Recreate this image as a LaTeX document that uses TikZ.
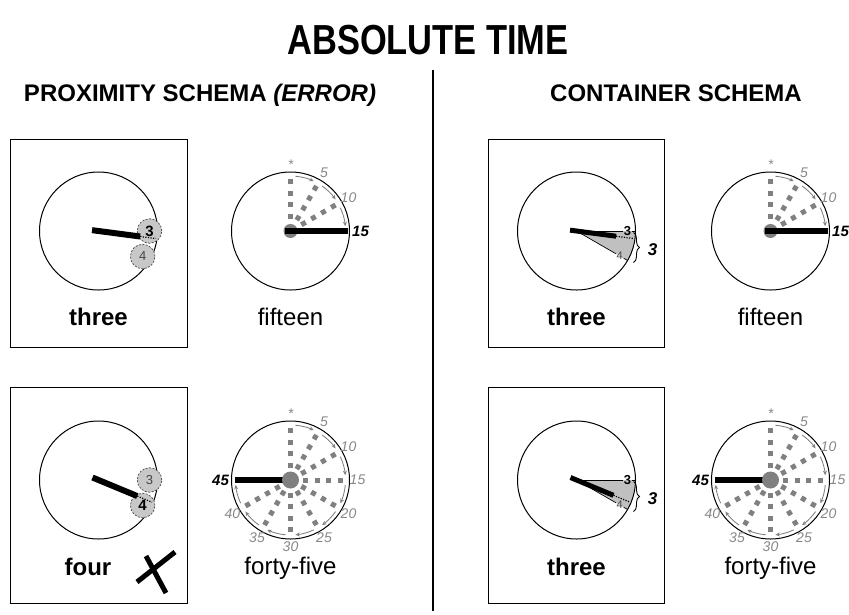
\documentclass[tikz,border=0pt]{standalone}
\usepackage{fontspec}
\setmainfont{Liberation Sans}
\usetikzlibrary{arrows.meta,decorations.pathreplacing}

\definecolor{spokegray}{RGB}{128,128,128}
\definecolor{labelgray}{RGB}{135,135,135}
\definecolor{beadgray}{RGB}{200,200,200}
\definecolor{wedgegray}{RGB}{192,192,192}
\definecolor{digitgray}{RGB}{70,70,70}

\tikzset{
  face/.style={draw=black, line width=1pt},
  panel/.style={draw=black, line width=0.9pt},
  hand/.style={draw=black, line width=6pt},
  thinhand/.style={draw=black, line width=5pt},
  extension/.style={draw=black, line width=1.2pt, dash pattern=on 1.2pt off 1.4pt},
  spoke/.style={draw=spokegray, line width=5pt, dash pattern=on 5pt off 6.5pt},
  steparrow/.style={draw=spokegray, line width=0.85pt, -{Stealth[length=4.5pt,width=4pt]}},
  hub/.style={fill=spokegray},
  minlabel/.style={text=labelgray, font=\fontsize{14}{14}\selectfont\itshape, inner sep=0pt},
  lastlabel/.style={text=black, font=\fontsize{15}{15}\selectfont\bfseries\itshape, inner sep=0pt},
  bead/.style={circle, minimum size=24.5pt, inner sep=0pt, fill=beadgray, draw=digitgray,
    line width=0.7pt, dash pattern=on 2pt off 1.5pt},
  beadstrong/.style={text=black, font=\fontsize{15}{15}\selectfont\bfseries, inner sep=0pt},
  beadweak/.style={text=digitgray, font=\fontsize{13}{13}\selectfont, inner sep=0pt},
  hourstrong/.style={text=black, font=\fontsize{13}{13}\selectfont\bfseries, inner sep=0.6pt},
  hourweak/.style={text=digitgray, font=\fontsize{11}{11}\selectfont, inner sep=0.6pt},
  tick/.style={draw=black, line width=0.7pt},
  spanbrace/.style={draw=black, line width=0.9pt, decorate, decoration={brace, amplitude=6pt}},
  spanlabel/.style={text=black, font=\fontsize{17}{17}\selectfont\bfseries\itshape, inner sep=0pt},
  caption/.style={font=\fontsize{24}{24}\selectfont, inner sep=0pt, anchor=base,
    text height=17.5pt, text depth=5pt},
  captionbold/.style={caption, font=\fontsize{24}{24}\selectfont\bfseries},
  heading/.style={font=\fontsize{24}{24}\selectfont\bfseries, inner sep=0pt, anchor=base},
  titletext/.style={font=\fontsize{42}{42}\selectfont\bfseries, inner sep=0pt, anchor=base},
}

% Minute clock: dotted five-minute spokes, step arrows and minute labels.
% #1 name, #2 x, #3 y, #4 last minute reached
\newcommand{\minclock}[4]{%
  \begin{scope}[shift={(#2,#3)}]
    \coordinate (#1c) at (0,0);
    \draw[face] (#1c) circle[radius=59];
    \pgfmathtruncatemacro{\lastspoke}{#4-5}
    \foreach \m in {0,5,...,\lastspoke}{
      \draw[spoke] ({\m*6-90}:52) -- (#1c);
      \draw[steparrow] ({\m*6-90+5}:55) arc[start angle={\m*6-90+5}, end angle={\m*6-90+25}, radius=55];
    }
    \node[minlabel] (#1star) at (-90:66) {*};
    \foreach \m in {5,10,...,\lastspoke}{
      \node[minlabel] (#1m\m) at ({\m*6-90}:67) {\m};
    }
    \node[lastlabel] (#1last) at ({#4*6-90}:70) {#4};
  \end{scope}}

% Hour clock with the two neighbouring hour marks as beads.
% #1 name, #2 x, #3 y, #4 hand angle, #5 style of 3, #6 style of 4
\newcommand{\proxclock}[6]{%
  \begin{scope}[shift={(#2,#3)}]
    \coordinate (#1c) at (0,0);
    \draw[face] (#1c) circle[radius=59];
    \node[bead] (#1b3) at (0:51) {};
    \node[bead] (#1b4) at (30:51) {};
    \coordinate (#1tail) at ({#4+180}:6.5);
    \coordinate (#1tip) at (#4:42);
    \coordinate (#1rim) at (#4:58);
    \draw[hand] (#1tail) -- (#1tip);
    \draw[extension] (#1tip) -- (#1rim);
    \node[#5] (#1d3) at (#1b3) {3};
    \node[#6] (#1d4) at (#1b4) {4};
  \end{scope}}

% Hour clock with the sector between 3 and 4 shaded and braced.
% #1 name, #2 x, #3 y, #4 hand angle
\newcommand{\contclock}[4]{%
  \begin{scope}[shift={(#2,#3)}]
    \coordinate (#1c) at (0,0);
    \fill[wedgegray] (#1c) -- (0:59) arc[start angle=0, end angle=30, radius=59] -- cycle;
    \draw[face] (#1c) circle[radius=59];
    \node[hourstrong] (#1h3) at (0:51) {3};
    \node[hourweak] (#1h4) at (30:50) {4};
    \coordinate (#1r3) at (0:59);
    \coordinate (#1r4) at (30:59);
    \draw[tick] (#1c) -- (#1h3);
    \draw[tick] (#1h3) -- (#1r3);
    \draw[tick] (#1c) -- (#1h4);
    \draw[tick] (#1h4) -- (#1r4);
    \coordinate (#1tail) at ({#4+180}:6.5);
    \coordinate (#1tip) at (#4:40);
    \coordinate (#1rim) at (#4:58);
    \draw[thinhand] (#1tail) -- (#1tip);
    \draw[extension] (#1tip) -- (#1rim);
    \coordinate (#1bt) at (57,1.5);
    \coordinate (#1bb) at (57,31.5);
    \draw[spanbrace] (#1bt) -- (#1bb);
    \node[spanlabel] (#1span) at (76,19) {3};
  \end{scope}}

\begin{document}
\begin{tikzpicture}[x=1pt,y=-1pt]
\useasboundingbox (0,0) rectangle (849,614);

% headings and divider
\node[titletext] (title) at (428,54) {\scalebox{0.82}[1]{ABSOLUTE TIME}};
\node[heading] (lefthead) at (200,101) {PROXIMITY SCHEMA \textit{(ERROR)}};
\node[heading] (righthead) at (676,101) {CONTAINER SCHEMA};
\coordinate (divtop) at (433,70);
\coordinate (divbot) at (433,611);
\draw[line width=2.5pt] (divtop) -- (divbot);

% framed panels
\draw[panel] (10,139) rectangle (187,347);
\draw[panel] (10,387) rectangle (187,603);
\draw[panel] (488,139) rectangle (664,347);
\draw[panel] (488,387) rectangle (664,603);

% proximity schema
\proxclock{pa}{98.5}{231}{7.5}{beadstrong}{beadweak}
\node[captionbold] (pacap) at (98.5,325) {three};

\proxclock{pb}{98.5}{480}{22.5}{beadweak}{beadstrong}
\node[captionbold] (pbcap) at (88,575) {four};
\coordinate (xa1) at (137,582); \coordinate (xa2) at (175,552);
\coordinate (xb1) at (146,556); \coordinate (xb2) at (166,593);
\draw[line width=5pt] (xa1) -- (xa2);
\draw[line width=5pt] (xb1) -- (xb2);

% minute clocks, left
\minclock{ma}{290.5}{231}{15}
\fill[hub] (mac) circle[radius=7];
\coordinate (mahandtail) at (290.5-5.5,231);
\coordinate (mahandtip) at (290.5+57,231);
\draw[hand] (mahandtail) -- (mahandtip);
\node[caption] (macap) at (290.5,325) {fifteen};

\minclock{mb}{290.5}{480}{45}
\coordinate (mbhandtail) at (290.5-56,480);
\draw[hand] (mbhandtail) -- (mbc);
\fill[hub] (mbc) circle[radius=8.5];
\node[caption] (mbcap) at (290.5,574) {forty-five};

% container schema
\contclock{ca}{576.5}{231}{7.5}
\node[captionbold] (cacap) at (576.5,325) {three};

\contclock{cb}{576.5}{480}{22.5}
\node[captionbold] (cbcap) at (576.5,575) {three};

% minute clocks, right
\minclock{mc}{770.5}{231}{15}
\fill[hub] (mcc) circle[radius=7];
\coordinate (mchandtail) at (770.5-5.5,231);
\coordinate (mchandtip) at (770.5+57,231);
\draw[hand] (mchandtail) -- (mchandtip);
\node[caption] (mccap) at (770.5,325) {fifteen};

\minclock{md}{770.5}{480}{45}
\coordinate (mdhandtail) at (770.5-56,480);
\draw[hand] (mdhandtail) -- (mdc);
\fill[hub] (mdc) circle[radius=8.5];
\node[caption] (mdcap) at (770.5,574) {forty-five};
\end{tikzpicture}
\end{document}
